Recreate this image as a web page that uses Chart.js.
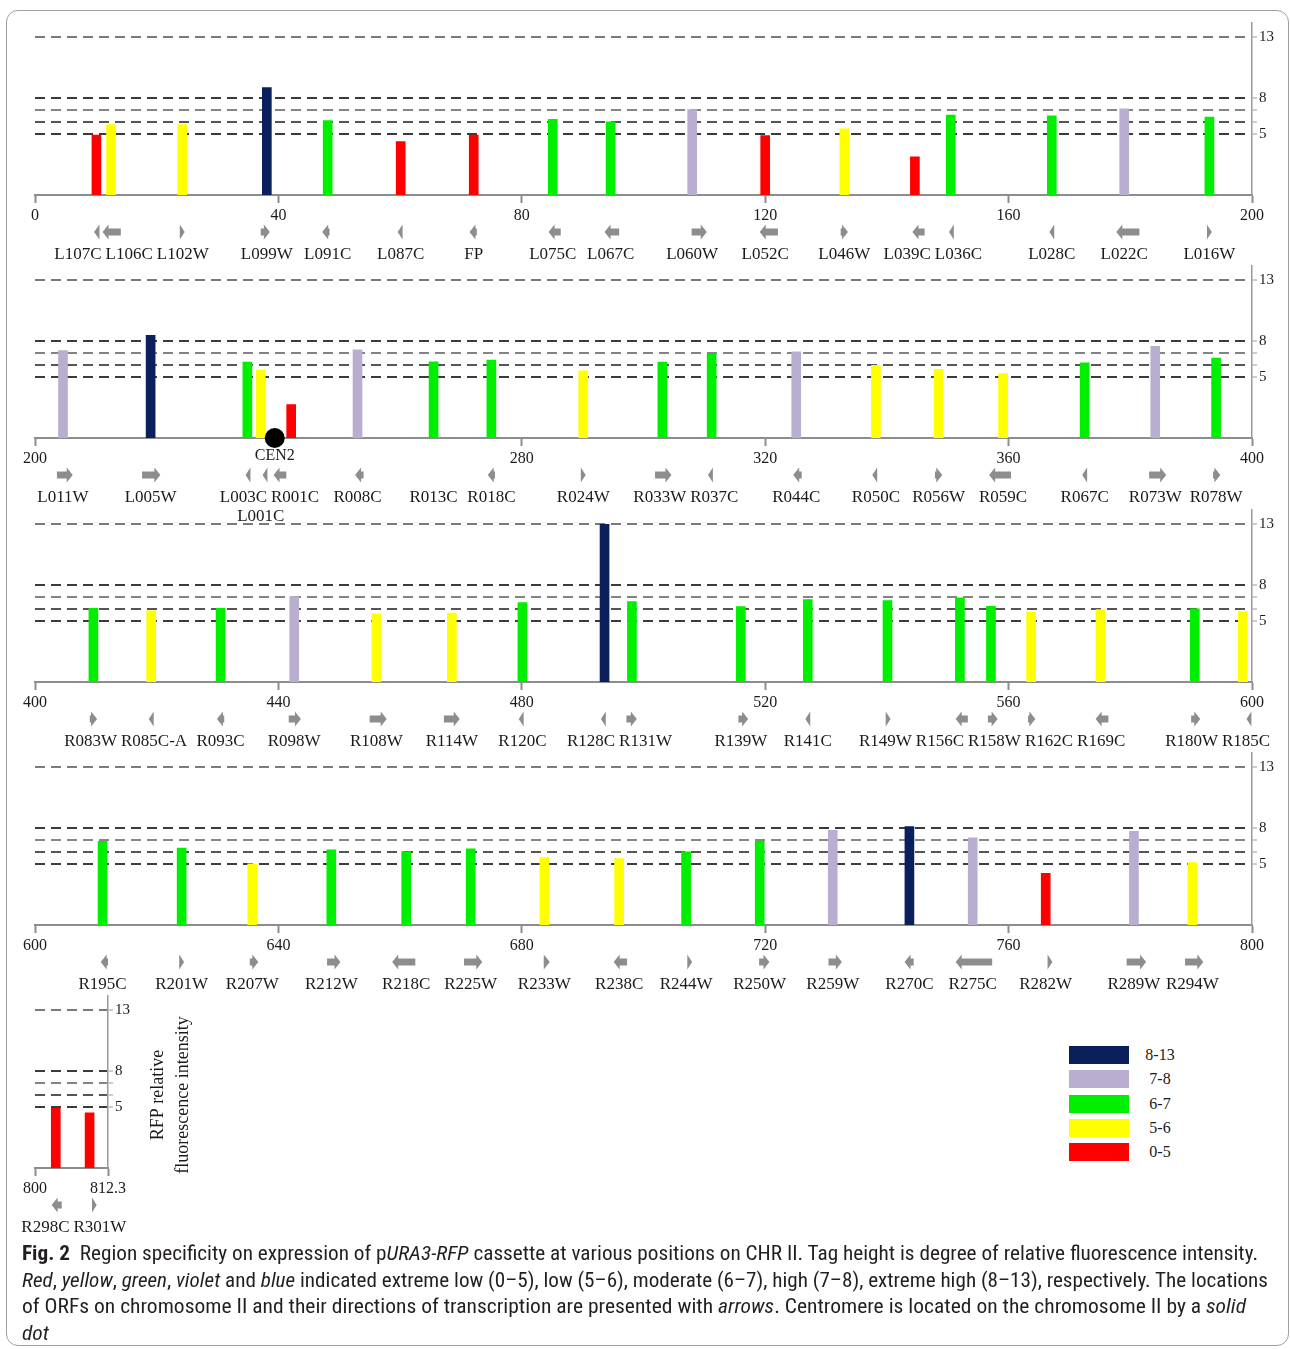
<!DOCTYPE html>
<html>
<head>
<meta charset="utf-8">
<title>RFP fluorescence along chromosome II</title>
<script src="https://cdn.jsdelivr.net/npm/chart.js@4.4.1/dist/chart.umd.min.js"></script>
<style>
  html, body { margin: 0; padding: 0; background: #fff; }
  body { width: 1290px; height: 1349px; position: relative; overflow: hidden;
         font-family: "Liberation Serif", "Times New Roman", serif; color: #1a1a1a; }
  #frame { position: absolute; left: 6px; top: 10px; width: 1283px; height: 1336px;
           border: 1px solid #a0a0a0; border-radius: 12px; box-sizing: border-box; }
  canvas { position: absolute; left: 0; }
  #legend { position: absolute; left: 1069px; top: 1046px; }
  .lg-row { position: relative; height: 24.3px; }
  .lg-box { position: absolute; left: 0; top: 0; width: 60px; height: 18px; }
  .lg-txt { position: absolute; left: 66px; width: 50px; top: -1px; text-align: center;
            font-size: 16px; line-height: 20px; }
  #caption { position: absolute; left: 22px; top: 1240px;
             font-family: "Liberation Sans Narrow", "Roboto Condensed", "Noto Sans", "Open Sans", sans-serif;
             font-size: 21px; color: #231f20; }
  #caption .ln { white-space: nowrap; height: 26.5px; line-height: 26.5px; }
  #caption .ln span.fit { display: inline-block; transform-origin: 0 50%; }
</style>
</head>
<body>
<div id="frame"></div>
<div id="charts"></div>
<div id="legend"></div>
<div id="caption">
  <div class="ln"><span class="fit"><b>Fig. 2</b>&nbsp; Region specificity on expression of p<i>URA3-RFP</i> cassette at various positions on CHR II. Tag height is degree of relative fluorescence intensity.</span></div>
  <div class="ln"><span class="fit"><i>Red</i>, <i>yellow</i>, <i>green</i>, <i>violet</i> and <i>blue</i> indicated extreme low (0–5), low (5–6), moderate (6–7), high (7–8), extreme high (8–13), respectively. The locations</span></div>
  <div class="ln"><span class="fit">of ORFs on chromosome II and their directions of transcription are presented with <i>arrows</i>. Centromere is located on the chromosome II by a <i>solid</i></span></div>
  <div class="ln"><span class="fit"><i>dot</i></span></div>
</div>

<script>
// ---- Tagged ORFs along chromosome II (kb) ----------------------------------
const orfNames = [
  'L107C','L106C','L102W','L099W','L091C','L087C','FP','L075C','L067C','L060W',
  'L052C','L046W','L039C','L036C','L028C','L022C','L016W',
  'L011W','L005W','L003C','L001C','R001C','R008C','R013C','R018C','R024W',
  'R033W','R037C','R044C','R050C','R056W','R059C','R067C','R073W','R078W',
  'R083W','R085C-A','R093C','R098W','R108W','R114W','R120C','R128C','R131W',
  'R139W','R141C','R149W','R156C','R158W','R162C','R169C','R180W','R185C',
  'R195C','R201W','R207W','R212W','R218C','R225W','R233W','R238C','R244W',
  'R250W','R259W','R270C','R275C','R282W','R289W','R294W',
  'R298C','R301W'
];
// tag position (kb)
const orfPos = [
  10.1, 12.5, 24.2, 38.1, 48.1, 60.1, 72.1, 85.1, 94.6, 108.0,
  120.0, 133.0, 144.6, 150.5, 167.1, 179.0, 193.0,
  204.6, 219.0, 234.9, 237.1, 242.1, 253.0, 265.5, 275.0, 290.1,
  303.1, 311.2, 325.1, 338.2, 348.5, 359.1, 372.5, 384.1, 394.1,
  409.6, 419.1, 430.5, 442.6, 456.1, 468.5, 480.1, 493.6, 498.1,
  516.0, 527.0, 540.1, 552.0, 557.1, 563.7, 575.1, 590.6, 598.5,
  611.1, 624.1, 635.7, 648.7, 661.0, 671.6, 683.7, 696.0, 707.0,
  719.1, 731.1, 743.7, 754.1, 766.1, 780.6, 790.2,
  803.5, 809.2
];
// RFP relative fluorescence intensity
const orfIntensity = [
  4.93, 5.80, 5.80, 8.84, 6.13, 4.39, 4.94, 6.22, 6.03, 7.03,
  4.89, 5.44, 3.15, 6.57, 6.52, 7.10, 6.41,
  7.20, 8.45, 6.24, 5.58, 2.76, 7.25, 6.27, 6.41, 5.52,
  6.24, 6.88, 7.10, 5.97, 5.66, 5.30, 6.19, 7.54, 6.57,
  6.07, 5.85, 6.07, 7.03, 5.60, 5.68, 6.54, 12.97, 6.62,
  6.20, 6.79, 6.70, 6.92, 6.23, 5.74, 5.96, 6.03, 5.79,
  6.88, 6.33, 5.03, 6.19, 6.05, 6.27, 5.55, 5.47, 6.02,
  6.90, 7.79, 8.09, 7.18, 4.25, 7.71, 5.14,
  4.94, 4.53
];
// ORF extent as start -> end of transcription (kb); null = not drawn
const orfFrom = [
  10.6, 14.1, 23.8, 37.1, 48.4, 60.4, 72.6, 86.4, 96.0, 107.9,
  122.1, 132.4, 146.2, 151.0, 167.5, 181.5, 192.6,
  203.6, 217.6, 235.4, 238.2, 241.3, 254.0, null, 275.6, 289.7,
  301.9, 311.4, 326.0, 338.4, 347.9, 360.4, 372.9, 383.1, 393.6,
  409.0, 419.5, 431.1, 441.7, 455.0, 467.2, 480.3, 493.8, 497.2,
  515.6, 527.4, 539.8, 553.3, 556.6, 563.2, 576.4, 590.0, 599.9,
  612.0, 623.7, 635.3, 648.0, 662.5, 670.5, 683.6, 697.3, 707.2,
  719.0, 730.4, 744.4, 757.3, 766.4, 779.4, 789.0,
  804.5, 809.6
];
const orfTo = [
  9.7, 11.1, 24.6, 38.6, 47.2, 59.6, 71.4, 84.4, 93.6, 110.4,
  119.1, 133.6, 144.2, 150.2, 166.7, 177.7, 193.4,
  206.2, 220.6, 234.6, 237.4, 239.2, 252.6, null, 274.4, 290.5,
  304.6, 310.6, 324.6, 337.6, 349.1, 356.8, 372.1, 385.9, 394.8,
  410.2, 418.7, 429.9, 443.7, 457.8, 469.8, 479.5, 493.0, 498.9,
  517.2, 526.6, 540.6, 551.3, 558.2, 564.4, 574.3, 591.5, 599.1,
  610.8, 624.5, 636.7, 650.2, 658.7, 673.5, 684.6, 695.1, 708.0,
  720.7, 732.6, 742.9, 751.3, 767.2, 782.6, 792.0,
  802.8, 810.4
];
const secondRowNames = ['L001C'];

const centromereName = 'CEN2';
const centromerePos = 239.4;

// chromosome segments (kb) shown one per row
const segmentStart = [0, 200, 400, 600, 800];
const segmentEnd   = [200, 400, 600, 800, 812.3];
const kbTickStep = 40;

// intensity axis
const levelTicks = [5, 6, 7, 8, 13];
const levelLabelled = [5, 8, 13];
const levelMax = 14.2;

// intensity classes
const classNames  = ['8-13', '7-8', '6-7', '5-6', '0-5'];
const classFloor  = [8, 7, 6, 5, 0];
const classColors = ['#0b1f5c', '#b9aecf', '#00ee00', '#ffff00', '#ff0000'];

const yTitleLines = ['RFP relative', 'fluorescence intensity'];

// ---- layout -----------------------------------------------------------------
const ROW_BASELINE = [195, 438, 682, 925, 1168];
const ROW_RIGHT    = [1252, 1252, 1252, 1252, 108];
const PLOT_LEFT = 35;
const ABOVE = 185, BELOW = 105, X_AXIS_H = 30;
const PLOT_H = 158 / 13 * levelMax;
const SERIF = '"Liberation Serif", "Times New Roman", serif';
const ARROW_COLOR = '#8d8d8d';
const AXIS_COLOR = '#8d8d8d';
const gridColors = {13: '#7a7a7a', 8: '#3a3a3a', 7: '#858585', 6: '#555555', 5: '#3a3a3a'};

function classColor(v) {
  for (let k = 0; k < classFloor.length; k++) if (v >= classFloor[k]) return classColors[k];
  return classColors[classColors.length - 1];
}

function drawArrow(ctx, xa, xb, y) {
  const dir = xb >= xa ? 1 : -1;
  const len = Math.abs(xb - xa);
  const HEAD = 6, HH = 7.5, SH = 3.6;
  ctx.beginPath();
  if (len <= HEAD) {
    const w = Math.max(len, 3.5);
    ctx.moveTo(xb, y);
    ctx.lineTo(xb - dir * w, y - HH);
    ctx.lineTo(xb - dir * w, y + HH);
  } else {
    const neck = xb - dir * HEAD;
    ctx.moveTo(xb, y);
    ctx.lineTo(neck, y - HH);
    ctx.lineTo(neck, y - SH);
    ctx.lineTo(xa, y - SH);
    ctx.lineTo(xa, y + SH);
    ctx.lineTo(neck, y + SH);
    ctx.lineTo(neck, y + HH);
  }
  ctx.closePath();
  ctx.fill();
}

// push overlapping labels apart along the row
function spreadLabels(row, gap) {
  row.sort((a, b) => a.c - b.c);
  for (let it = 0; it < 200; it++) {
    let moved = false;
    for (let k = 1; k < row.length; k++) {
      const a = row[k - 1], b = row[k];
      const ov = (a.c + a.w / 2 + gap) - (b.c - b.w / 2);
      if (ov > 0.01) { a.c -= ov / 2; b.c += ov / 2; moved = true; }
    }
    if (!moved) break;
  }
}

const orfTrack = {
  id: 'orfTrack',
  afterDraw(chart) {
    const opts = chart.options.plugins.orfTrack;
    const ctx = chart.ctx;
    const xs = chart.scales.x, ys = chart.scales.y;
    const base = ys.getPixelForValue(0);
    ctx.save();
    // transcription arrows
    ctx.fillStyle = ARROW_COLOR;
    opts.items.forEach(i => {
      if (orfFrom[i] == null) return;
      drawArrow(ctx, xs.getPixelForValue(orfFrom[i]), xs.getPixelForValue(orfTo[i]), base + 37);
    });
    // ORF names
    ctx.font = '17px ' + SERIF;
    ctx.fillStyle = '#1a1a1a';
    ctx.textAlign = 'center';
    ctx.textBaseline = 'middle';
    const rows = [[], []];
    opts.items.forEach(i => {
      const r = secondRowNames.includes(orfNames[i]) ? 1 : 0;
      rows[r].push({ t: orfNames[i], w: ctx.measureText(orfNames[i]).width, c: xs.getPixelForValue(orfPos[i]) });
    });
    rows.forEach((row, r) => {
      spreadLabels(row, 4);
      row.forEach(l => ctx.fillText(l.t, l.c, base + 60 + r * 19));
    });
    // centromere name
    if (opts.centromere) {
      ctx.font = '16px ' + SERIF;
      ctx.fillText(centromereName, xs.getPixelForValue(centromerePos), base + 18);
    }
    // intensity axis title
    if (opts.yTitle) {
      ctx.font = '18px ' + SERIF;
      ctx.translate(chart.chartArea.right + 50, base - 73);
      ctx.rotate(-Math.PI / 2);
      ctx.fillText(yTitleLines[0], 0, 0);
      ctx.fillText(yTitleLines[1], 0, 25);
    }
    ctx.restore();
  }
};

const holder = document.getElementById('charts');
segmentStart.forEach((lo, p) => {
  const hi = segmentEnd[p];
  const items = [];
  orfPos.forEach((x, i) => { if (x >= lo && x < hi) items.push(i); });
  const hasCen = centromerePos >= lo && centromerePos < hi;
  const isLast = p === segmentStart.length - 1;
  const width = isLast ? 210 : 1290;
  const yWidth = width - ROW_RIGHT[p];

  const cv = document.createElement('canvas');
  cv.width = width; cv.height = ABOVE + BELOW;
  cv.style.top = (ROW_BASELINE[p] - ABOVE) + 'px';
  holder.appendChild(cv);

  const kbTicks = [];
  if (isLast) { kbTicks.push(lo, hi); }
  else for (let v = lo; v <= hi + 1e-9; v += kbTickStep) kbTicks.push(v);

  new Chart(cv, {
    type: 'bar',
    data: {
      datasets: [
        {
          type: 'bar',
          data: items.map(i => ({ x: orfPos[i], y: orfIntensity[i] })),
          backgroundColor: c => classColor(c.raw ? c.raw.y : 0),
          borderWidth: 0,
          barThickness: 9,
          order: 2
        },
        {
          type: 'scatter',
          data: hasCen ? [{ x: centromerePos, y: 0 }] : [],
          pointRadius: 10,
          pointBackgroundColor: '#000',
          pointBorderWidth: 0,
          clip: false,
          order: 1
        }
      ]
    },
    options: {
      responsive: false,
      animation: false,
      events: [],
      layout: { padding: { left: PLOT_LEFT, right: 0, top: ABOVE - PLOT_H, bottom: BELOW - X_AXIS_H } },
      plugins: {
        legend: { display: false },
        tooltip: { enabled: false },
        orfTrack: { items, centromere: hasCen, yTitle: isLast }
      },
      scales: {
        x: {
          type: 'linear', min: lo, max: hi, offset: false,
          afterBuildTicks: s => { s.ticks = kbTicks.map(v => ({ value: v })); },
          afterFit: s => { s.height = X_AXIS_H; },
          ticks: {
            autoSkip: false, maxRotation: 0, padding: 3,
            color: '#1a1a1a', font: { family: SERIF, size: 16 },
            callback: v => (hasCen && Math.abs(v - centromerePos) < 6) ? '' : String(v)
          },
          grid: { drawOnChartArea: false, drawTicks: true, tickLength: 8, tickWidth: 2, tickColor: AXIS_COLOR, offset: false },
          border: { color: AXIS_COLOR, width: 2 }
        },
        y: {
          position: 'right', min: 0, max: levelMax,
          afterBuildTicks: s => { s.ticks = levelTicks.map(v => ({ value: v })); },
          afterFit: s => { s.width = yWidth; },
          ticks: {
            padding: 2, color: '#1a1a1a', font: { family: SERIF, size: 15 },
            callback: v => levelLabelled.includes(v) ? String(v) : ''
          },
          grid: {
            drawOnChartArea: true, drawTicks: true, tickLength: 5,
            lineWidth: 2, color: c => gridColors[c.tick ? c.tick.value : 5] || '#555',
            tickColor: '#9a9a9a', tickWidth: 1
          },
          border: { display: true, color: '#9a9a9a', width: 1.5, dash: [10, 6] }
        }
      }
    },
    plugins: [orfTrack]
  });
});

// legend of intensity classes
const legend = document.getElementById('legend');
classNames.forEach((name, k) => {
  const row = document.createElement('div');
  row.className = 'lg-row';
  const box = document.createElement('div');
  box.className = 'lg-box';
  box.style.background = classColors[k];
  const txt = document.createElement('div');
  txt.className = 'lg-txt';
  txt.textContent = name;
  row.appendChild(box); row.appendChild(txt);
  legend.appendChild(row);
});

// caption lines set to the column width
const lineWidths = [1236, 1246, 1224];
const spans = document.querySelectorAll('#caption .ln span.fit');
let lastScale = 1;
spans.forEach((s, k) => {
  const w = s.getBoundingClientRect().width;
  const sc = lineWidths[k] ? lineWidths[k] / w : lastScale;
  s.style.transform = 'scaleX(' + sc + ')';
  lastScale = sc;
});
</script>
</body>
</html>
